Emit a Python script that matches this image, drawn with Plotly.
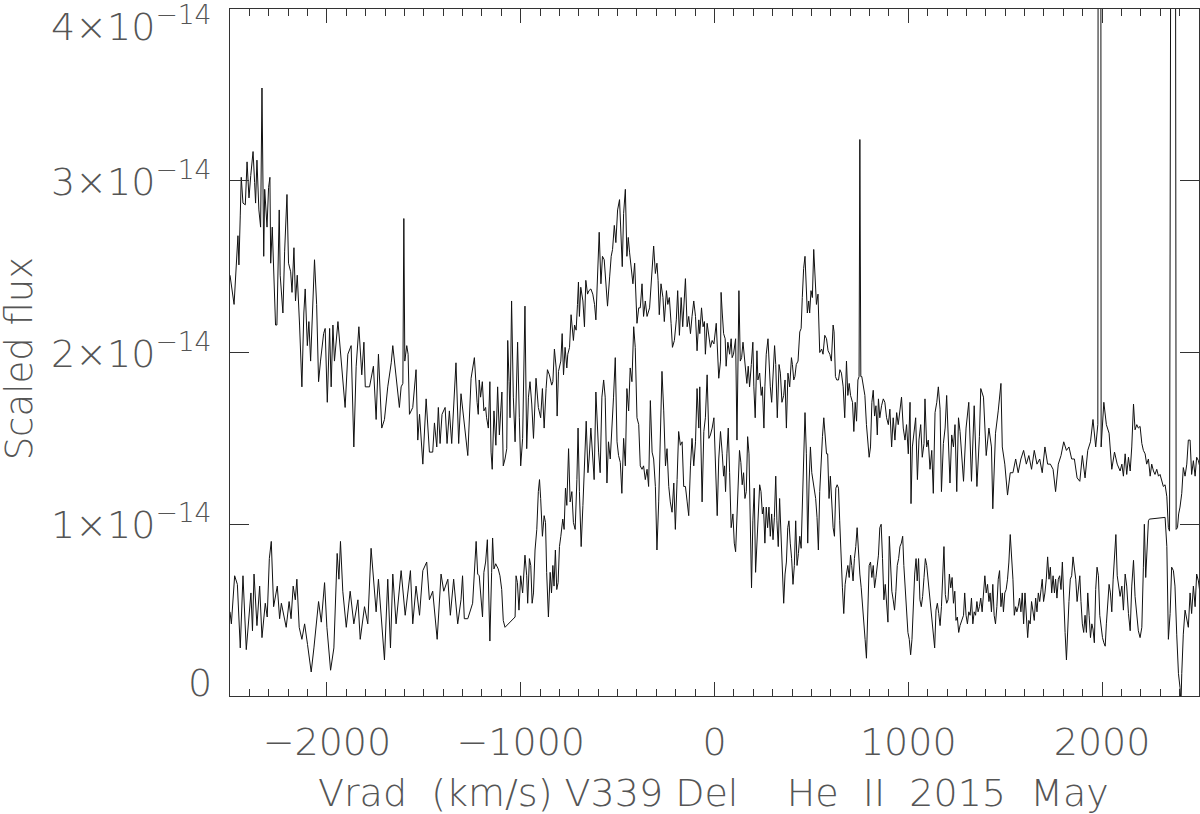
import plotly.graph_objects as go

SCALE = 1e-14  # flux values below are in units of 1e-14

# ---------------- upper spectrum ----------------
upper_v = [
    -2500, -2479, -2459, -2454, -2447, -2442, -2433, -2421, -2412, -2402,
    -2393, -2381, -2373, -2368, -2361, -2351, -2342, -2335, -2326, -2321,
    -2309, -2301, -2294, -2290, -2282, -2265, -2258, -2253, -2246, -2241,
    -2227, -2218, -2206, -2198, -2187, -2180, -2170, -2162, -2153, -2141,
    -2129, -2119, -2112, -2101, -2093, -2084, -2064, -2053, -2043, -2033,
    -2017, -2009, -1998, -1986, -1978, -1969, -1961, -1943, -1926, -1906,
    -1892, -1875, -1861, -1849, -1835, -1820, -1809, -1802, -1780, -1760,
    -1746, -1734, -1717, -1703, -1686, -1668, -1660, -1643, -1626, -1617,
    -1608, -1603, -1598, -1588, -1581, -1574, -1557, -1540, -1531, -1522,
    -1505, -1488, -1471, -1454, -1445, -1433, -1425, -1416, -1406, -1390,
    -1380, -1368, -1356, -1334, -1320, -1308, -1300, -1273, -1256, -1239,
    -1225,
    -1219, -1214, -1207, -1198, -1190, -1181, -1176, -1167, -1159, -1153,
    -1147, -1138, -1128, -1119, -1110, -1103, -1097, -1090, -1081, -1072,
    -1067, -1060, -1055, -1047, -1038, -1029, -1021, -1016, -1007, -1000,
    -990, -978, -969, -960, -952, -943, -934, -921, -909, -897,
    -888, -879, -869, -862, -852, -840, -834, -826, -817, -812,
    -805, -793, -786, -779, -771, -762, -757, -748, -740, -728,
    -722, -714, -707, -702, -697, -690, -679, -671, -664, -655,
    -648, -638, -628, -619, -612, -603, -595, -586, -578, -569,
    -560, -552, -541, -533, -526, -517, -509, -500, -490, -483,
    -476, -469, -460, -452, -445, -438, -429, -421, -412, -405,
    -400, -391, -383, -374, -366, -357, -348, -335, -322, -314,
    -305, -297, -291, -285, -276, -266, -259, -248, -241, -233,
    -224, -217, -207, -197, -190, -181, -172, -164, -150, -141,
    -133, -124, -116, -107, -98, -90, -81, -76, -67, -59,
    -52, -47, -38, -29, -21, -12, -3, 9, 17, 22,
    31,
    34, 40, 47, 55, 60, 69, 78, 86, 91, 98,
    109, 116, 122, 126, 133, 140, 147, 153, 160, 167,
    174, 181, 190, 198, 203, 210, 219, 224, 233, 241,
    247, 255, 260, 267, 276, 281, 288, 295, 302, 310,
    316, 324, 333, 340, 348, 357, 364, 371, 379, 388,
    397, 402, 409, 415, 422, 431, 440, 447, 453, 460,
    467, 474, 479, 486, 491, 498, 505, 512, 519, 526,
    534, 543, 553, 560, 569, 578, 586, 595, 603, 612,
    617, 624, 631, 640, 647, 655, 664, 672, 681, 688,
    695, 702, 712, 719, 726, 733, 740, 746, 750, 755,
    760, 767, 776, 784, 791, 798, 805, 812, 819, 826,
    833, 840, 846, 853, 862, 871, 879, 888, 897, 905,
    914, 922, 931, 940, 948, 957, 965, 974, 983, 991,
    1000, 1009, 1014, 1021, 1029, 1038, 1047, 1055, 1064, 1072,
    1081, 1086, 1095, 1103, 1112, 1121, 1129, 1138, 1147, 1155,
    1164, 1171, 1181, 1190, 1198, 1207, 1215, 1224, 1233, 1241,
    1250, 1259, 1267,
    1285, 1298, 1312, 1326, 1340, 1354, 1367, 1374, 1388, 1402,
    1416, 1429, 1436, 1450, 1464, 1478, 1485, 1498, 1512, 1526,
    1540, 1554, 1567, 1581, 1595, 1609, 1622, 1636, 1650, 1664,
    1678, 1691, 1705, 1719, 1733, 1747, 1760, 1774, 1788, 1802,
    1816, 1829, 1843, 1857, 1871, 1885, 1898, 1912, 1926, 1940,
    1953, 1967, 1978, 1983, 1990, 1995, 2009, 2022, 2036, 2050,
    2064, 2078,
    2093, 2102, 2110, 2119, 2127, 2136, 2145, 2153, 2162, 2170,
    2179, 2187, 2196, 2205, 2213, 2222, 2230, 2239, 2248, 2256,
    2265, 2273, 2282, 2291, 2299, 2308, 2316, 2325, 2334, 2342,
    2348, 2362, 2375, 2382, 2389, 2395, 2402, 2411, 2419, 2428,
    2437, 2445, 2454, 2462, 2471, 2480, 2488, 2497, 2505,
]
upper_f = [
    2.45, 2.28, 2.68, 2.51, 2.80, 3.02, 2.87, 2.86, 3.11, 2.90,
    3.03, 3.17, 2.99, 2.87, 3.12, 2.83, 2.73, 3.54, 2.56, 2.95,
    2.73, 2.96, 3.02, 2.52, 2.73, 2.16, 2.16, 2.48, 2.83, 2.45,
    2.23, 2.59, 2.92, 2.52, 2.47, 2.35, 2.61, 2.30, 2.45, 2.16,
    1.80, 2.23, 2.37, 2.04, 2.18, 1.95, 2.54, 2.28, 1.83, 1.95,
    2.11, 2.14, 1.71, 2.14, 1.80, 2.16, 1.95, 2.18, 1.97, 1.68,
    1.99, 2.04, 1.45, 1.92, 2.15, 1.87, 2.06, 1.80, 1.80, 1.92,
    1.61, 1.99, 1.56, 1.61, 1.80, 1.94, 2.04, 1.85, 1.68, 1.80,
    1.82, 2.78, 1.95, 2.04, 1.99, 1.64, 1.68, 1.90, 1.49, 1.64,
    1.35, 1.73, 1.42, 1.42, 1.59, 1.45, 1.68, 1.47, 1.64, 1.68,
    1.47, 1.66, 1.47, 1.94, 1.47, 1.76, 1.68, 1.40, 1.85, 1.97,
    1.71,
    1.64, 1.84, 1.74, 1.83, 1.66, 1.68, 1.62, 1.56, 1.83, 1.42,
    1.32, 1.66, 1.46, 1.80, 1.52, 1.66, 1.77, 1.34, 1.38, 1.44,
    2.07, 1.83, 1.62, 2.30, 1.74, 1.48, 1.95, 2.06, 1.62, 1.34,
    1.50, 2.27, 1.44, 1.74, 1.83, 1.70, 1.50, 1.85, 1.68, 1.62,
    1.79, 1.56, 1.79, 1.90, 1.87, 1.81, 1.83, 2.02, 1.91, 1.63,
    1.89, 1.95, 2.11, 1.87, 2.03, 1.91, 1.99, 2.03, 2.22, 2.07,
    2.16, 2.13, 2.28, 2.41, 2.21, 2.38, 2.30, 2.15, 2.42, 2.34,
    2.36, 2.37, 2.34, 2.28, 2.19, 2.50, 2.70, 2.40, 2.56, 2.54,
    2.42, 2.27, 2.44, 2.56, 2.60, 2.74, 2.64, 2.83, 2.89, 2.70,
    2.50, 2.81, 2.95, 2.56, 2.67, 2.58, 2.50, 2.40, 2.52, 2.32,
    2.17, 2.26, 2.26, 2.40, 2.21, 2.30, 2.21, 2.26, 2.50, 2.62,
    2.46, 2.52, 2.42, 2.22, 2.40, 2.32, 2.18, 2.36, 2.28, 2.32,
    2.17, 2.03, 2.07, 2.19, 2.36, 2.10, 2.32, 2.15, 2.43, 2.15,
    2.21, 2.11, 2.21, 2.30, 2.21, 2.01, 2.19, 2.11, 2.26, 2.15,
    2.18, 1.99, 2.17, 2.09, 2.03, 2.07, 2.05, 2.17, 1.99, 1.85,
    1.95,
    2.35, 2.23, 2.11, 2.08, 1.92, 2.06, 1.99, 2.08, 1.97, 1.99,
    2.08, 1.49, 2.14, 2.36, 1.95, 1.97, 2.06, 1.99, 1.93, 1.82,
    1.92, 1.80, 1.93, 2.06, 1.80, 1.62, 2.01, 1.84, 1.88, 1.75,
    1.80, 1.56, 1.80, 1.99, 2.08, 1.95, 1.80, 1.71, 1.84, 2.04,
    1.93, 1.62, 1.93, 1.88, 1.71, 1.75, 1.84, 1.56, 1.88, 1.80,
    1.97, 1.93, 1.84, 1.86, 1.93, 1.95, 2.12, 2.14, 2.32, 2.49,
    2.56, 2.34, 2.23, 2.30, 2.23, 2.36, 2.32, 2.60, 2.47, 2.28,
    2.34, 2.00, 2.02, 1.99, 2.10, 2.08, 2.01, 1.99, 1.95, 2.16,
    2.12, 1.86, 1.84, 1.84, 1.90, 1.88, 1.80, 1.62, 1.95, 1.75,
    1.82, 1.75, 1.71, 1.54, 1.71, 1.60, 1.84, 1.86, 3.24, 1.86,
    1.86, 1.80, 1.75, 1.58, 1.47, 1.39, 1.45, 1.71, 1.78, 1.63,
    1.69, 1.52, 1.73, 1.62, 1.69, 1.73, 1.71, 1.62, 1.58, 1.67,
    1.45, 1.62, 1.49, 1.65, 1.58, 1.67, 1.74, 1.56, 1.49, 1.58,
    1.41, 1.71, 1.12, 1.45, 1.54, 1.62, 1.26, 1.49, 1.58, 1.39,
    1.47, 1.73, 1.45, 1.49, 1.32, 1.43, 1.18, 1.65, 1.71, 1.80,
    1.67, 1.19, 1.47, 1.56, 1.75, 1.43, 1.24, 1.52, 1.45, 1.58,
    1.19, 1.62, 1.54,
    1.25, 1.56, 1.71, 1.25, 1.69, 1.22, 1.51, 1.79, 1.74, 1.40,
    1.56, 1.45, 1.09, 1.53, 1.66, 1.82, 1.45, 1.35, 1.17, 1.30,
    1.30, 1.38, 1.30, 1.38, 1.43, 1.35, 1.40, 1.32, 1.43, 1.35,
    1.38, 1.30, 1.45, 1.35, 1.35, 1.32, 1.19, 1.35, 1.40, 1.48,
    1.43, 1.45, 1.38, 1.38, 1.27, 1.25, 1.40, 1.27, 1.43, 1.48,
    1.61, 1.45, 1.58, 12.0, 12.0, 1.45, 1.71, 1.58, 1.53, 1.32,
    1.42, 1.35,
    1.31, 1.35, 1.28, 1.41, 1.29, 1.39, 1.31, 1.45, 1.70, 1.55,
    1.58, 1.56, 1.57, 1.47, 1.43, 1.41, 1.35, 1.38, 1.28, 1.35,
    1.31, 1.29, 1.32, 1.28, 1.29, 1.25, 1.22, 1.23, 1.16, 0.98,
    0.96, 9.0, 9.0, 0.97, 0.98, 1.06, 1.10, 1.18, 1.33, 1.28,
    1.35, 1.49, 1.49, 1.29, 1.37, 1.28, 1.39, 1.37, 1.33,
]

# ---------------- lower spectrum ----------------
lower_v = [
    -2500, -2493, -2476, -2462, -2447, -2433, -2416, -2404, -2392, -2384,
    -2376, -2361, -2347, -2335, -2318, -2308, -2297, -2287, -2275, -2256,
    -2244, -2235, -2210, -2195, -2185, -2174, -2163, -2155, -2143, -2129,
    -2115, -2100, -2081, -2067, -2055, -2043, -2029, -2012, -2000, -1981,
    -1964, -1947, -1938, -1930, -1918, -1900, -1880, -1861, -1840, -1828,
    -1806, -1789, -1772, -1746, -1734, -1717, -1703, -1686, -1672, -1660,
    -1643, -1617, -1596, -1569, -1557, -1540, -1522, -1505, -1485, -1471,
    -1454, -1431, -1411, -1397, -1376, -1363, -1346, -1325, -1308, -1300,
    -1291, -1273, -1248, -1230, -1222,
    -1214, -1205, -1197, -1190, -1181, -1172, -1166, -1159, -1150, -1145,
    -1138, -1129, -1116, -1107, -1098, -1090, -1081, -1029, -1024, -1017,
    -1009, -1000, -990, -983, -978, -969, -964, -955, -948, -941,
    -934, -926, -917, -909, -903, -897, -888, -879, -872, -866,
    -857, -848, -841, -834, -828, -821, -814, -807, -800, -793,
    -783, -776, -769, -762, -753, -745, -736, -728, -719, -710,
    -704, -697, -688, -679, -671, -662, -653, -647, -638, -629,
    -621, -612, -607, -598, -590, -581, -572, -564, -555, -547,
    -538, -529, -521, -512, -503, -495, -486, -478, -469, -460,
    -452, -443, -435, -426, -417, -409, -400, -391, -383, -374,
    -366, -357, -348, -340, -331, -322, -314, -305, -297, -288,
    -279, -271, -262, -253, -245, -236, -228, -219, -210, -202,
    -193, -185, -176, -167, -159, -150, -141, -133, -124, -116,
    -107, -98, -90, -81, -76, -69, -64, -55, -47, -38,
    -29, -21, -12, -3, 5, 14, 22, 31,
    40, 47, 52, 57, 64, 71, 78, 86, 95, 102,
    109, 116, 122, 129, 136, 143, 150, 157, 164, 171,
    178, 184, 191, 198, 205, 212, 219, 226, 233, 240,
    247, 253, 260, 267, 274, 281, 288, 295, 302, 309,
    316, 322, 329, 336, 343, 350, 357, 364, 371, 378,
    384, 391, 398, 405, 412, 419, 426, 433, 440, 447,
    453, 460, 467, 474, 481, 488, 495, 502, 509, 515,
    522, 529, 536, 543, 550, 557, 564, 571, 578, 584,
    591, 598, 605, 612, 619, 626, 633, 640, 646, 653,
    660, 667, 674, 681, 688, 695, 702, 708, 715, 722,
    729, 736, 743, 750, 757, 764, 771, 777, 784, 791,
    798, 805, 812, 819, 826, 833, 840, 846, 853, 860,
    867, 874, 881, 888, 895, 902, 909, 915, 922, 929,
    936, 943, 950, 957, 964, 971, 977, 984, 991, 998,
    1005, 1012, 1019, 1026, 1033, 1040, 1046, 1053, 1060, 1067,
    1074, 1081, 1088, 1095, 1102, 1108, 1115, 1122, 1129, 1136,
    1143, 1150, 1157, 1164, 1171, 1177, 1184, 1191, 1198, 1205,
    1212, 1219, 1226, 1233, 1240, 1246, 1253, 1260, 1267,
    1285, 1291, 1298, 1305, 1312, 1319, 1326, 1333, 1340, 1347,
    1354, 1360, 1367, 1374, 1381, 1388, 1395, 1402, 1409, 1416,
    1422, 1429, 1436, 1443, 1450, 1457, 1464, 1471, 1478, 1485,
    1491, 1498, 1505, 1512, 1519, 1526, 1533, 1540, 1547, 1554,
    1560, 1567, 1574, 1581, 1588, 1595, 1602, 1609, 1616, 1622,
    1629, 1636, 1643, 1650, 1657, 1664, 1671, 1678, 1685, 1691,
    1698, 1705, 1712, 1719, 1726, 1733, 1740, 1747, 1754, 1760,
    1767, 1774, 1781, 1788, 1795, 1802, 1809, 1816, 1822, 1829,
    1836, 1843, 1850, 1857, 1864, 1871, 1878, 1885, 1891, 1898,
    1905, 1912, 1919, 1926, 1933, 1940, 1947, 1953, 1960, 1967,
    1974, 1981, 1988, 1995, 2002, 2009, 2016, 2022, 2029, 2036,
    2043, 2050, 2057, 2064, 2071, 2078, 2085,
    2093, 2102, 2110, 2119, 2127, 2136, 2145, 2153, 2162, 2170,
    2179, 2187, 2196, 2205, 2213, 2218, 2225, 2230, 2239, 2244,
    2325, 2334, 2342, 2351, 2359, 2368, 2376, 2385, 2394, 2402,
    2407, 2411, 2419, 2428, 2437, 2445, 2454, 2462, 2471, 2480,
    2488, 2497, 2505,
]
lower_f = [
    0.49, 0.42, 0.70, 0.65, 0.28, 0.70, 0.27, 0.45, 0.60, 0.38,
    0.71, 0.41, 0.64, 0.34, 0.54, 0.46, 0.80, 0.90, 0.52, 0.64,
    0.45, 0.54, 0.40, 0.55, 0.45, 0.64, 0.56, 0.68, 0.40, 0.33,
    0.42, 0.30, 0.14, 0.28, 0.41, 0.55, 0.43, 0.66, 0.40, 0.15,
    0.28, 0.83, 0.68, 0.90, 0.61, 0.40, 0.61, 0.42, 0.56, 0.33,
    0.52, 0.42, 0.86, 0.49, 0.68, 0.42, 0.21, 0.68, 0.28, 0.71,
    0.42, 0.73, 0.47, 0.73, 0.42, 0.64, 0.47, 0.73, 0.78, 0.56,
    0.61, 0.33, 0.71, 0.61, 0.68, 0.47, 0.68, 0.42, 0.56, 0.70,
    0.45, 0.45, 0.54, 0.90, 0.71,
    0.70, 0.56, 0.46, 0.72, 0.78, 0.91, 0.62, 0.32, 0.72, 0.92,
    0.74, 0.77, 0.74, 0.70, 0.62, 0.44, 0.40, 0.46, 0.70, 0.66,
    0.50, 0.70, 0.60, 0.72, 0.82, 0.70, 0.54, 0.80, 0.76, 0.54,
    0.60, 0.85, 0.97, 1.19, 1.26, 1.15, 0.93, 1.05, 1.01, 0.72,
    0.46, 0.72, 0.60, 0.76, 0.64, 0.85, 0.62, 0.66, 0.87, 0.93,
    1.03, 0.97, 1.21, 1.11, 1.44, 1.13, 1.19, 1.01, 0.97, 1.26,
    1.56, 1.19, 0.87, 1.11, 1.38, 1.60, 1.30, 1.38, 1.56, 1.38,
    1.26, 1.77, 1.62, 1.42, 1.30, 1.74, 1.84, 1.74, 1.24, 1.48,
    1.38, 1.54, 1.74, 1.97, 1.48, 1.40, 1.36, 1.18, 1.50, 1.34,
    1.79, 1.66, 1.91, 1.83, 2.15, 2.03, 1.62, 1.58, 1.34, 1.32,
    1.34, 1.26, 1.32, 1.22, 1.72, 1.42, 1.38, 1.22, 0.85, 1.13,
    1.50, 1.89, 1.66, 1.34, 1.44, 1.22, 1.13, 1.07, 1.24, 0.97,
    1.26, 1.54, 1.46, 1.48, 1.22, 1.22, 1.13, 1.05, 1.34, 1.50,
    1.34, 1.48, 1.79, 1.56, 1.80, 1.42, 1.13, 1.54, 1.62, 1.87,
    1.50, 1.52, 1.56, 1.62, 1.40, 1.05, 1.38, 1.54,
    1.41, 1.28, 1.34, 1.19, 1.41, 1.56, 1.30, 0.98, 1.06, 0.89,
    0.84, 1.04, 1.28, 1.43, 1.36, 1.23, 1.30, 1.15, 1.19, 1.51,
    1.41, 0.98, 0.63, 1.02, 1.21, 0.72, 0.89, 1.15, 1.23, 1.19,
    1.06, 1.10, 0.89, 1.10, 0.98, 1.10, 0.93, 1.06, 0.91, 1.04,
    1.28, 1.02, 0.87, 1.15, 0.93, 0.67, 0.54, 0.71, 0.78, 0.98,
    1.02, 0.89, 0.80, 0.65, 0.76, 1.02, 0.76, 0.83, 0.93, 0.86,
    1.10, 1.41, 1.65, 1.41, 0.89, 1.24, 1.45, 1.30, 1.24, 1.19,
    1.15, 1.04, 0.85, 1.19, 1.41, 1.51, 1.62, 1.51, 1.41, 1.41,
    1.15, 1.28, 1.10, 0.98, 0.93, 1.21, 1.23, 1.21, 1.02, 0.76,
    0.63, 0.48, 0.65, 0.71, 0.76, 0.69, 0.82, 0.76, 0.67, 0.80,
    0.87, 0.98, 0.80, 0.71, 0.63, 0.54, 0.43, 0.33, 0.22, 0.54,
    0.76, 0.78, 0.69, 0.76, 0.63, 0.69, 0.76, 0.82, 0.98, 1.00,
    0.80, 0.56, 0.65, 0.54, 0.43, 0.93, 0.76, 0.61, 0.56, 0.50,
    0.61, 0.76, 0.80, 0.87, 0.89, 0.93, 0.76, 0.63, 0.54, 0.37,
    0.33, 0.24, 0.33, 0.54, 0.71, 0.80, 0.67, 0.80, 0.56, 0.52,
    0.58, 0.69, 0.80, 0.76, 0.67, 0.61, 0.54, 0.43, 0.37, 0.28,
    0.50, 0.54, 0.48, 0.41, 0.52, 0.71, 0.87, 0.59, 0.54, 0.56,
    0.71, 0.63, 0.69, 0.54, 0.61, 0.44, 0.46, 0.37, 0.41,
    0.47, 0.60, 0.47, 0.42, 0.49, 0.47, 0.57, 0.42, 0.49, 0.47,
    0.55, 0.49, 0.52, 0.57, 0.49, 0.60, 0.70, 0.60, 0.65, 0.55,
    0.60, 0.49, 0.65, 0.47, 0.42, 0.52, 0.68, 0.73, 0.52, 0.60,
    0.49, 0.60, 0.62, 0.68, 0.78, 0.94, 0.83, 0.68, 0.47, 0.52,
    0.49, 0.52, 0.57, 0.49, 0.60, 0.42, 0.60, 0.47, 0.34, 0.44,
    0.42, 0.55, 0.49, 0.44, 0.57, 0.49, 0.60, 0.55, 0.62, 0.68,
    0.55, 0.60, 0.68, 0.81, 0.68, 0.75, 0.60, 0.70, 0.60, 0.68,
    0.57, 0.68, 0.70, 0.62, 0.78, 0.52, 0.37, 0.21, 0.42, 0.55,
    0.68, 0.70, 0.81, 0.75, 0.68, 0.55, 0.62, 0.70, 0.55, 0.42,
    0.37, 0.47, 0.37, 0.60, 0.47, 0.34, 0.42, 0.39, 0.31, 0.62,
    0.75, 0.70, 0.47, 0.39, 0.34, 0.31, 0.29, 0.42, 0.52, 0.65,
    0.60, 0.49, 0.68, 0.81, 0.94, 0.70, 0.65,
    0.58, 0.64, 0.50, 0.71, 0.64, 0.48, 0.38, 0.64, 0.79, 0.58,
    0.48, 0.38, 0.34, 0.40, 0.75, 1.00, 0.69, 0.85, 1.02, 1.03,
    1.04, 0.87, 0.33, 0.48, 0.75, 0.73, 0.64, 0.36, 0.13, 0.05,
    -0.05, 0.13, 0.36, 0.50, 0.44, 0.40, 0.60, 0.48, 0.64, 0.52,
    0.71, 0.67, 0.60,
]

assert len(upper_v) == len(upper_f), (len(upper_v), len(upper_f))
assert len(lower_v) == len(lower_f), (len(lower_v), len(lower_f))

x_range = [-2500, 2500]
y_range = [0, 4]            # in units of 1e-14
y_tick_vals = [0, 1, 2, 3, 4]
y_tick_text = ["0", "1×10<sup>−14</sup>", "2×10<sup>−14</sup>",
               "3×10<sup>−14</sup>", "4×10<sup>−14</sup>"]
NB = "\u00a0"
x_title = ("Vrad" + NB + " (km/s) V339 Del" + NB * 3 + " He" + NB + " II"
           + NB + " 2015" + NB + " May")
y_title = "Scaled flux"

FONT = "DejaVu Sans"
WEIGHT = 200
TXT = "#555555"
AX = "#333333"

fig = go.Figure()
for v, f in ((upper_v, upper_f), (lower_v, lower_f)):
    fig.add_trace(go.Scatter(
        x=v, y=[val * SCALE for val in f], mode="lines",
        line=dict(color="#111111", width=1), showlegend=False,
        hoverinfo="skip"))

fig.update_layout(
    width=1200, height=814,
    margin=dict(l=230, r=1, t=9, b=118),
    paper_bgcolor="white", plot_bgcolor="white",
    font=dict(family=FONT, color=TXT, size=38, weight=WEIGHT),
)
fig.update_xaxes(
    range=x_range, tick0=0, dtick=1000,
    ticks="inside", ticklen=14, tickwidth=1, tickcolor=AX,
    showline=True, linecolor=AX, linewidth=1, mirror="ticks",
    showgrid=False, zeroline=False,
    minor=dict(ticks="inside", ticklen=7, tick0=0, dtick=100,
               tickcolor=AX, tickwidth=1, showgrid=False),
    tickfont=dict(family=FONT, size=38, color=TXT, weight=WEIGHT),
    ticklabelstandoff=12,
)
fig.update_yaxes(
    range=[r * SCALE for r in y_range], tick0=0, dtick=SCALE,
    ticks="inside", ticklen=19, tickwidth=1, tickcolor=AX,
    showline=True, linecolor=AX, linewidth=1, mirror="ticks",
    showgrid=False, zeroline=False, showticklabels=False,
    minor=dict(ticks="inside", ticklen=10, tick0=0, dtick=SCALE / 10,
               tickcolor=AX, tickwidth=1, showgrid=False),
)

# y tick labels (IDL-style exponent notation)
shifts = {0: 13, 1: 2, 2: 2, 3: 2, 4: -15}
for val, txt in zip(y_tick_vals, y_tick_text):
    fig.add_annotation(
        x=0, xref="paper", y=val * SCALE, yref="y",
        text=txt, showarrow=False, xanchor="right", yanchor="middle",
        xshift=-16, yshift=shifts[val],
        font=dict(family=FONT, size=38, color=TXT, weight=WEIGHT))

# axis titles
fig.add_annotation(
    x=0.5, xref="paper", y=0, yref="paper", text=x_title, showarrow=False,
    xanchor="center", yanchor="middle", yshift=-97, xshift=-1,
    font=dict(family=FONT, size=38, color=TXT, weight=WEIGHT))
fig.add_annotation(
    x=-(230 - 19) / 969, xref="paper", y=0.49, yref="paper", text=y_title,
    showarrow=False, textangle=-90, xanchor="center", yanchor="middle",
    font=dict(family=FONT, size=37, color=TXT, weight=WEIGHT))

fig.write_html("out.html",
               config={"displayModeBar": False},
               post_script="document.body.style.margin='0';"
                           "document.body.style.overflow='hidden';")
